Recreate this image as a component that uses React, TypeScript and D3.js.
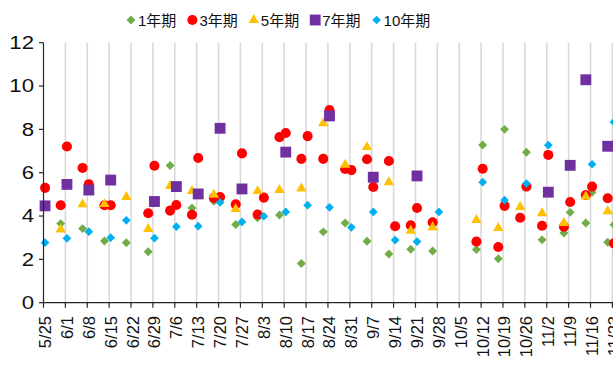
import React from "react";
import * as d3 from "d3";

const W = 613;
const H = 365;

// Observation dates (2020) and yields per tenor; null = no observation that day
const obsDates = [
  "2020-05-25", "2020-05-30", "2020-06-01", "2020-06-06", "2020-06-08", "2020-06-13",
  "2020-06-15", "2020-06-20", "2020-06-27", "2020-06-29", "2020-07-04", "2020-07-06",
  "2020-07-11", "2020-07-13", "2020-07-18", "2020-07-20", "2020-07-25", "2020-07-27",
  "2020-08-01", "2020-08-03", "2020-08-08", "2020-08-10", "2020-08-15", "2020-08-17",
  "2020-08-22", "2020-08-24", "2020-08-29", "2020-08-31", "2020-09-05", "2020-09-07",
  "2020-09-12", "2020-09-14", "2020-09-19", "2020-09-21", "2020-09-26", "2020-09-28",
  "2020-10-10", "2020-10-12", "2020-10-17", "2020-10-19", "2020-10-24", "2020-10-26",
  "2020-10-31", "2020-11-02", "2020-11-07", "2020-11-09", "2020-11-14", "2020-11-16",
  "2020-11-21", "2020-11-23",
];

const y1 = [
  null, 3.65, null, 3.42, null, 2.85,
  null, 2.77, 2.35, null, 6.33, null,
  4.37, null, 4.68, null, 3.61, null,
  3.92, null, 4.05, null, 1.81, null,
  3.27, null, 3.68, null, 2.84, null,
  2.25, null, 2.47, null, 2.39, null,
  2.45, 7.28, 2.03, 8.0, null, 6.94,
  2.9, null, 3.22, 4.17, 3.68, 5.1,
  2.79, 3.6,
];
const y3 = [
  5.3, 4.5, 7.21, 6.22, 5.47, 4.5,
  4.5, null, 4.13, 6.32, 4.25, 4.51,
  4.06, 6.68, 4.84, 4.88, 4.54, 6.89,
  4.07, 4.85, 7.64, 7.83, 6.64, 7.69,
  6.64, 8.89, 6.17, 6.12, 6.62, 5.34,
  6.54, 3.53, 3.57, 4.37, 3.71, null,
  2.82, 6.18, 2.57, 4.47, 3.92, 5.36,
  3.55, 6.82, 3.51, 4.65, 4.97, 5.36,
  4.82, 2.74,
];
const y5 = [
  null, 3.38, null, 4.54, null, 4.55,
  null, 4.88, 3.4, null, 5.39, null,
  5.15, null, 4.98, null, 4.32, null,
  5.15, null, 5.2, null, 5.27, null,
  8.28, null, 6.37, null, 7.18, null,
  5.56, null, 3.32, null, 3.48, null,
  3.82, null, 3.45, null, 4.42, null,
  4.13, null, 3.68, null, 4.9, null,
  4.22, null,
];
const y7 = [
  4.47, null, 5.46, null, 5.2, null,
  5.66, null, null, 4.67, null, 5.36,
  null, 5.02, null, 8.05, null, 5.25,
  null, null, null, 6.95, null, null,
  null, 8.62, null, null, null, 5.79,
  null, null, null, 5.85, null, null,
  null, null, null, null, null, null,
  null, 5.1, null, 6.34, 10.29, null,
  7.22, null,
];
const y10 = [
  2.77, null, 2.97, null, 3.28, null,
  3.0, 3.8, null, 2.98, null, 3.51,
  null, 3.53, null, 4.63, null, 3.73,
  null, 3.99, null, 4.19, null, 4.5,
  null, 4.4, null, 3.48, null, 4.19,
  null, 2.89, null, 2.82, null, 4.19,
  null, 5.56, null, 4.73, null, 5.5,
  null, 7.27, null, null, null, 6.39,
  null, 8.34,
];

const seriesNames = ["1年期", "3年期", "5年期", "7年期", "10年期"];
const seriesValues = [y1, y3, y5, y7, y10];
const seriesColors = ["#70AD47", "#FF0000", "#FFC000", "#7030A0", "#00B0F0"];

const yTicks = [0, 2, 4, 6, 8, 10, 12];
const axisStart = "2020-05-25";
const axisEnd = "2020-11-30";

const FONT = "'Liberation Sans', Arial, 'Noto Sans CJK SC', sans-serif";

type Shape = { type: d3.SymbolType; size: number; rotate: number };
const shapes: Shape[] = [
  { type: d3.symbolSquare, size: 40, rotate: 45 },
  { type: d3.symbolCircle, size: 80, rotate: 0 },
  { type: d3.symbolTriangle, size: 46, rotate: 0 },
  { type: d3.symbolSquare, size: 118, rotate: 0 },
  { type: d3.symbolSquare, size: 38, rotate: 45 },
];

export default function App() {
  const parse = d3.utcParse("%Y-%m-%d");
  const start = parse(axisStart)!;
  const end = parse(axisEnd)!;
  const weekPx = 21.88;
  const left = 43.5;
  const nWeeks = d3.utcDay.count(start, end) / 7;

  const x = d3.scaleUtc().domain([start, end]).range([left, left + nWeeks * weekPx]);
  const y = d3.scaleLinear().domain([0, 12]).range([302.7, 42.7]);

  const ticks = d3.utcMonday.range(start, d3.utcDay.offset(end, -6));
  const fmt = d3.utcFormat("%-m/%-d");

  const paths = shapes.map((s) => d3.symbol(s.type, s.size)()!);

  // observations are placed at midday of their date
  const px = (d: string) => x(d3.utcHour.offset(parse(d)!, 12));

  const legendX0 = 131;
  const legendStep = 61.4;

  return (
    <svg
      width={W}
      height={H}
      style={{ position: "fixed", left: 0, top: 0, background: "#fff" }}
      fontFamily={FONT}
    >
      <rect width={W} height={H} fill="#fff" />

      {/* weekly vertical gridlines */}
      {ticks.slice(1).map((t, i) => (
        <line
          key={"g" + i}
          x1={x(t)}
          x2={x(t)}
          y1={y(12)}
          y2={y(0)}
          stroke="#d9d9d9"
          strokeWidth={1.6}
        />
      ))}

      {/* markers */}
      {seriesValues.map((vals, si) => (
        <g key={"s" + si} fill={seriesColors[si]}>
          {vals.map((v, i) =>
            v == null ? null : (
              <path
                key={i}
                d={paths[si]}
                transform={`translate(${px(obsDates[i])},${y(v)}) rotate(${shapes[si].rotate})`}
              />
            )
          )}
        </g>
      ))}

      {/* y axis */}
      <line x1={left} x2={left} y1={y(12)} y2={y(0)} stroke="#262626" strokeWidth={1.2} />
      {yTicks.map((t) => (
        <g key={"y" + t}>
          <line x1={left - 4.5} x2={left} y1={y(t)} y2={y(t)} stroke="#262626" strokeWidth={1.2} />
          <text
            transform={`translate(34,${y(t)}) scale(1.2,1)`}
            textAnchor="end"
            dominantBaseline="central"
            fontSize={18.5}
            fill="#111"
          >
            {t}
          </text>
        </g>
      ))}

      {/* x axis */}
      <line x1={left} x2={W} y1={y(0)} y2={y(0)} stroke="#262626" strokeWidth={1.2} />
      {ticks.map((t, i) => (
        <g key={"x" + i}>
          <line x1={x(t)} x2={x(t)} y1={y(0)} y2={y(0) + 5} stroke="#262626" strokeWidth={1.2} />
          <text
            transform={`translate(${x(t) + 1.5},${316}) rotate(-90)`}
            textAnchor="end"
            dominantBaseline="central"
            fontSize={16.5}
            fill="#111"
          >
            {fmt(t)}
          </text>
        </g>
      ))}

      {/* legend */}
      {seriesNames.map((name, si) => {
        const lx = legendX0 + si * legendStep;
        return (
          <g key={"l" + si}>
            <path
              d={paths[si]}
              fill={seriesColors[si]}
              transform={`translate(${lx},20) rotate(${shapes[si].rotate})`}
            />
            <text x={lx + 7} y={20} dominantBaseline="central" fontSize={15} fill="#111">
              {name}
            </text>
          </g>
        );
      })}
    </svg>
  );
}
